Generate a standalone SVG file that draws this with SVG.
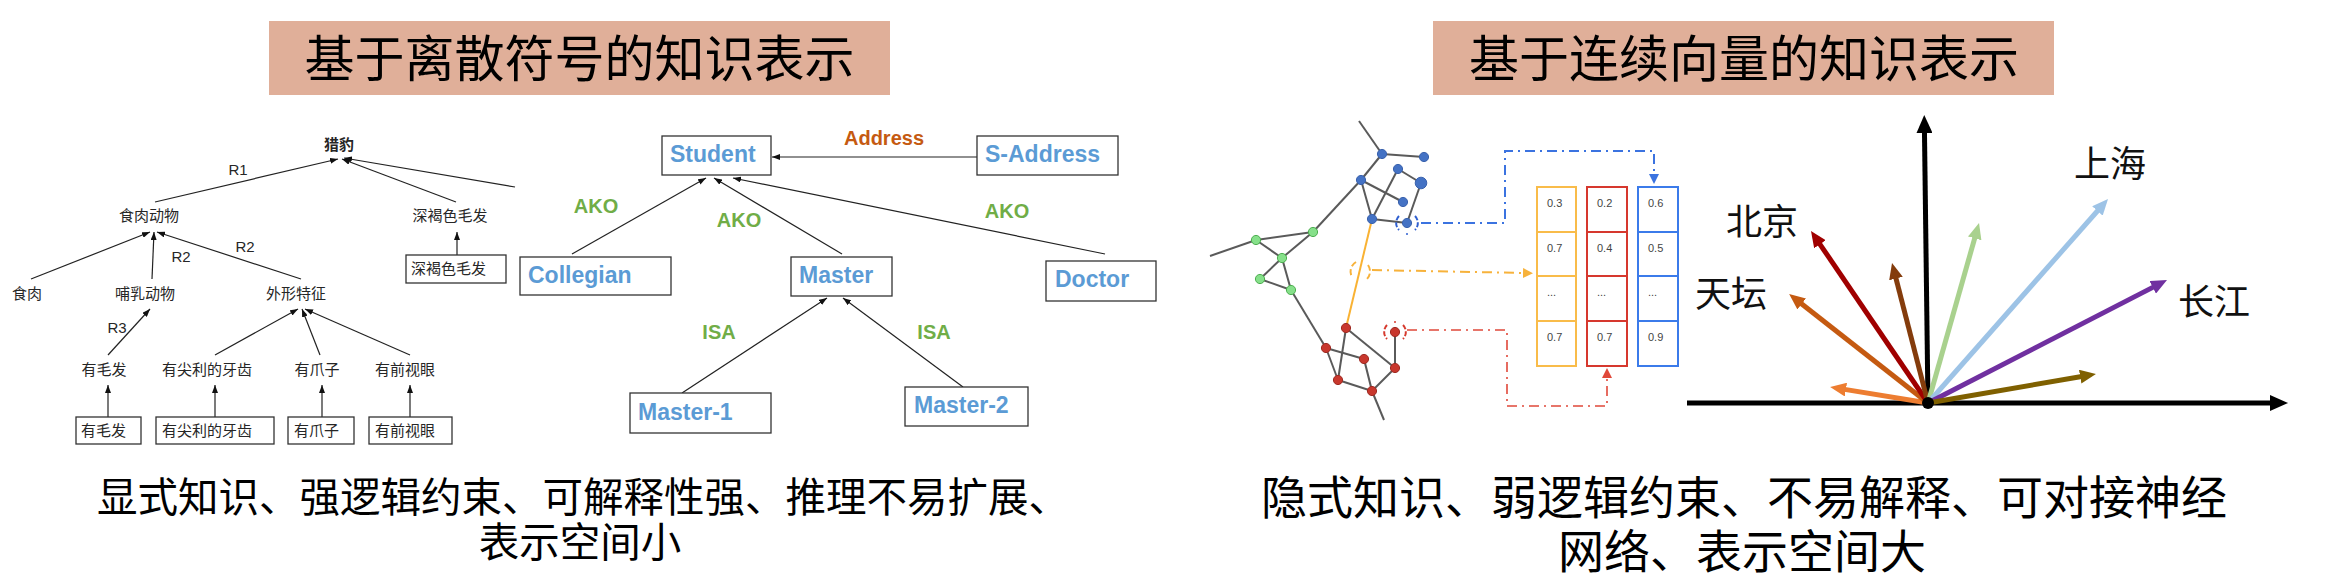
<svg xmlns="http://www.w3.org/2000/svg" width="2333" height="583" viewBox="0 0 2333 583">
<style>
.cn{font-family:"Noto Sans CJK SC","Noto Sans",sans-serif;}
.tn{font-family:"Noto Sans CJK SC","Noto Sans",sans-serif;font-size:15px;fill:#262626;}
.tl{font-family:"Liberation Sans",Arial,sans-serif;font-size:15px;fill:#262626;text-anchor:middle;}
.bx{fill:#fff;stroke:#333;stroke-width:1.3;}
.en{font-family:"Liberation Sans",Arial,sans-serif;font-weight:bold;font-size:23px;fill:#5B9BD5;}
.ako{font-family:"Liberation Sans",Arial,sans-serif;font-weight:bold;font-size:20px;fill:#70AD47;text-anchor:middle;}
.ed{stroke:#222;stroke-width:1.2;fill:none;marker-end:url(#ta);}
.ge{stroke:#5a5a5a;stroke-width:2;fill:none;}
.nb{fill:#4472C4;stroke:#3a62ad;stroke-width:1;}
.ng{fill:#86E08A;stroke:#4DAF50;stroke-width:1;}
.nr{fill:#C8372D;stroke:#9E2A22;stroke-width:1;}
.val{font-family:"Liberation Sans",Arial,sans-serif;font-size:11px;fill:#444;}
.lab{font-family:"Noto Sans CJK SC",sans-serif;font-size:36px;fill:#111;}
.vec{stroke-width:5;fill:none;}
</style>
<defs>
<marker id="ta" markerUnits="userSpaceOnUse" markerWidth="8" markerHeight="6" refX="8" refY="3" orient="auto"><path d="M0,0 L8,3 L0,6 z" fill="#111"/></marker>
<marker id="ax" markerUnits="userSpaceOnUse" markerWidth="18" markerHeight="16" refX="6" refY="8" orient="auto"><path d="M0,0 L18,8 L0,16 z" fill="#000"/></marker>
<marker id="m1" markerUnits="userSpaceOnUse" markerWidth="16" markerHeight="14" refX="6" refY="7" orient="auto"><path d="M0,0 L16,7 L0,14 z" fill="#ED7D31"/></marker>
<marker id="m2" markerUnits="userSpaceOnUse" markerWidth="16" markerHeight="14" refX="6" refY="7" orient="auto"><path d="M0,0 L16,7 L0,14 z" fill="#C55A11"/></marker>
<marker id="m3" markerUnits="userSpaceOnUse" markerWidth="16" markerHeight="14" refX="6" refY="7" orient="auto"><path d="M0,0 L16,7 L0,14 z" fill="#A00000"/></marker>
<marker id="m4" markerUnits="userSpaceOnUse" markerWidth="16" markerHeight="14" refX="6" refY="7" orient="auto"><path d="M0,0 L16,7 L0,14 z" fill="#843C0C"/></marker>
<marker id="m5" markerUnits="userSpaceOnUse" markerWidth="16" markerHeight="14" refX="6" refY="7" orient="auto"><path d="M0,0 L16,7 L0,14 z" fill="#A9D18E"/></marker>
<marker id="m6" markerUnits="userSpaceOnUse" markerWidth="16" markerHeight="14" refX="6" refY="7" orient="auto"><path d="M0,0 L16,7 L0,14 z" fill="#9DC3E6"/></marker>
<marker id="m7" markerUnits="userSpaceOnUse" markerWidth="16" markerHeight="14" refX="6" refY="7" orient="auto"><path d="M0,0 L16,7 L0,14 z" fill="#7030A0"/></marker>
<marker id="m8" markerUnits="userSpaceOnUse" markerWidth="16" markerHeight="14" refX="6" refY="7" orient="auto"><path d="M0,0 L16,7 L0,14 z" fill="#7F6000"/></marker>
<marker id="db" markerUnits="userSpaceOnUse" markerWidth="10" markerHeight="10" refX="2" refY="5" orient="auto"><path d="M0,0 L10,5 L0,10 z" fill="#3B73E0"/></marker>
<marker id="do" markerUnits="userSpaceOnUse" markerWidth="10" markerHeight="10" refX="2" refY="5" orient="auto"><path d="M0,0 L10,5 L0,10 z" fill="#F7B23B"/></marker>
<marker id="dr" markerUnits="userSpaceOnUse" markerWidth="10" markerHeight="10" refX="2" refY="5" orient="auto"><path d="M0,0 L10,5 L0,10 z" fill="#E0483A"/></marker>
</defs>
<rect width="2333" height="583" fill="#fff"/>

<!-- Titles -->
<g id="title-left">
<rect x="269" y="21" width="621" height="74" fill="#E0AF99"/>
<text class="cn" x="579.5" y="77" font-size="50" text-anchor="middle" fill="#000">基于离散符号的知识表示</text>
</g>
<g id="title-right">
<rect x="1433" y="21" width="621" height="74" fill="#E0AF99"/>
<text class="cn" x="1744" y="77" font-size="50" text-anchor="middle" fill="#000">基于连续向量的知识表示</text>
</g>

<!-- Tree connectors -->
<g id="tree-connectors">
<line class="ed" x1="155" y1="202" x2="338" y2="159"/>
<line class="ed" x1="456" y1="202" x2="342" y2="159"/>
<line class="ed" x1="515" y1="187" x2="344" y2="158"/>
<line class="ed" x1="457" y1="255" x2="457" y2="232"/>
<line class="ed" x1="31" y1="279" x2="150" y2="232"/>
<line class="ed" x1="152" y1="279" x2="154" y2="232"/>
<line class="ed" x1="301" y1="279" x2="157" y2="232"/>
<line class="ed" x1="108" y1="355" x2="150" y2="309"/>
<line class="ed" x1="215" y1="355" x2="298" y2="309"/>
<line class="ed" x1="320" y1="355" x2="302" y2="309"/>
<line class="ed" x1="410" y1="355" x2="305" y2="309"/>
<line class="ed" x1="108" y1="417" x2="108" y2="385"/>
<line class="ed" x1="215" y1="417" x2="215" y2="385"/>
<line class="ed" x1="322" y1="417" x2="322" y2="385"/>
<line class="ed" x1="410" y1="417" x2="410" y2="385"/>
<text class="tl" x="238" y="175">R1</text>
<text class="tl" x="181" y="262">R2</text>
<text class="tl" x="245" y="252">R2</text>
<text class="tl" x="117" y="333">R3</text>
</g>

<!-- Tree nodes -->
<g id="n-liebao"><text class="tn" x="339" y="150" text-anchor="middle" font-weight="bold" fill="#000">猎豹</text></g>
<g id="n-shirou-dongwu"><text class="tn" x="149" y="221" text-anchor="middle">食肉动物</text></g>
<g id="n-shenhe"><text class="tn" x="450" y="221" text-anchor="middle">深褐色毛发</text></g>
<g id="n-shenhe-box"><rect class="bx" x="406" y="255" width="100" height="28"/><text class="tn" x="411" y="274">深褐色毛发</text></g>
<g id="n-shirou"><text class="tn" x="27" y="299" text-anchor="middle">食肉</text></g>
<g id="n-buru"><text class="tn" x="145" y="299" text-anchor="middle">哺乳动物</text></g>
<g id="n-waixing"><text class="tn" x="296" y="299" text-anchor="middle">外形特征</text></g>
<g id="n-maofa"><text class="tn" x="104" y="375" text-anchor="middle">有毛发</text></g>
<g id="n-yachi"><text class="tn" x="207" y="375" text-anchor="middle">有尖利的牙齿</text></g>
<g id="n-zhuazi"><text class="tn" x="317" y="375" text-anchor="middle">有爪子</text></g>
<g id="n-shiyan"><text class="tn" x="405" y="375" text-anchor="middle">有前视眼</text></g>
<g id="b-maofa"><rect class="bx" x="76" y="417" width="65" height="27"/><text class="tn" x="81" y="436">有毛发</text></g>
<g id="b-yachi"><rect class="bx" x="156" y="417" width="118" height="27"/><text class="tn" x="162" y="436">有尖利的牙齿</text></g>
<g id="b-zhuazi"><rect class="bx" x="288" y="417" width="66" height="27"/><text class="tn" x="294" y="436">有爪子</text></g>
<g id="b-shiyan"><rect class="bx" x="369" y="417" width="83" height="27"/><text class="tn" x="375" y="436">有前视眼</text></g>

<!-- Semantic network connectors -->
<g id="net-connectors">
<line class="ed" x1="977" y1="157" x2="772" y2="157"/>
<line class="ed" x1="572" y1="254" x2="706" y2="178"/>
<line class="ed" x1="842" y1="254" x2="714" y2="178"/>
<line class="ed" x1="1105" y1="254" x2="733" y2="178"/>
<line class="ed" x1="682" y1="393" x2="827" y2="298"/>
<line class="ed" x1="963" y1="387" x2="843" y2="298"/>
<text x="884" y="145" text-anchor="middle" font-family="Liberation Sans, Arial, sans-serif" font-weight="bold" font-size="20" fill="#C55A11">Address</text>
<text class="ako" x="596" y="213">AKO</text>
<text class="ako" x="739" y="227">AKO</text>
<text class="ako" x="1007" y="218">AKO</text>
<text class="ako" x="719" y="339">ISA</text>
<text class="ako" x="934" y="339">ISA</text>
</g>
<g id="student"><rect class="bx" x="662" y="136" width="109" height="39"/><text class="en" x="670" y="162">Student</text></g>
<g id="s-address"><rect class="bx" x="977" y="136" width="141" height="39"/><text class="en" x="985" y="162">S-Address</text></g>
<g id="collegian"><rect class="bx" x="520" y="257" width="151" height="38"/><text class="en" x="528" y="283">Collegian</text></g>
<g id="master"><rect class="bx" x="791" y="257" width="101" height="39"/><text class="en" x="799" y="283">Master</text></g>
<g id="doctor"><rect class="bx" x="1046" y="261" width="110" height="40"/><text class="en" x="1055" y="287">Doctor</text></g>
<g id="master-1"><rect class="bx" x="630" y="393" width="141" height="40"/><text class="en" x="638" y="420">Master-1</text></g>
<g id="master-2"><rect class="bx" x="905" y="387" width="123" height="39"/><text class="en" x="914" y="413">Master-2</text></g>

<!-- Graph embedding -->
<g id="graph-edges">
<line class="ge" x1="1359" y1="121" x2="1382" y2="154"/>
<line class="ge" x1="1382" y1="154" x2="1424" y2="157"/>
<line class="ge" x1="1382" y1="154" x2="1361" y2="180"/>
<line class="ge" x1="1361" y1="180" x2="1372" y2="219"/>
<line class="ge" x1="1361" y1="180" x2="1403" y2="202"/>
<line class="ge" x1="1398" y1="169" x2="1421" y2="183"/>
<line class="ge" x1="1398" y1="169" x2="1372" y2="219"/>
<line class="ge" x1="1421" y1="183" x2="1407" y2="223"/>
<line class="ge" x1="1372" y1="219" x2="1407" y2="223"/>
<line class="ge" x1="1361" y1="180" x2="1313" y2="232"/>
<line class="ge" x1="1313" y1="232" x2="1256" y2="240"/>
<line class="ge" x1="1313" y1="232" x2="1282" y2="258"/>
<line class="ge" x1="1256" y1="240" x2="1282" y2="258"/>
<line class="ge" x1="1256" y1="240" x2="1210" y2="256"/>
<line class="ge" x1="1282" y1="258" x2="1260" y2="279"/>
<line class="ge" x1="1260" y1="279" x2="1291" y2="290"/>
<line class="ge" x1="1282" y1="258" x2="1291" y2="290"/>
<line class="ge" x1="1291" y1="290" x2="1326" y2="348"/>
<line x1="1372" y1="219" x2="1346" y2="328" stroke="#F9B233" stroke-width="2"/>
<line class="ge" x1="1346" y1="328" x2="1338" y2="380"/>
<line class="ge" x1="1346" y1="328" x2="1395" y2="368"/>
<line class="ge" x1="1326" y1="348" x2="1364" y2="359"/>
<line class="ge" x1="1326" y1="348" x2="1338" y2="380"/>
<line class="ge" x1="1364" y1="359" x2="1372" y2="391"/>
<line class="ge" x1="1338" y1="380" x2="1372" y2="391"/>
<line class="ge" x1="1372" y1="391" x2="1395" y2="368"/>
<line class="ge" x1="1395" y1="332" x2="1395" y2="368"/>
<line class="ge" x1="1372" y1="391" x2="1384" y2="420"/>
</g>
<g id="graph-nodes">
<circle class="nb" cx="1382" cy="154" r="4.6"/>
<circle class="nb" cx="1424" cy="157" r="4.6"/>
<circle class="nb" cx="1398" cy="169" r="4.6"/>
<circle class="nb" cx="1421" cy="183" r="5.8"/>
<circle class="nb" cx="1361" cy="180" r="4.6"/>
<circle class="nb" cx="1403" cy="202" r="4.6"/>
<circle class="nb" cx="1372" cy="219" r="4.6"/>
<circle class="nb" cx="1407" cy="223" r="4.6"/>
<circle class="ng" cx="1313" cy="232" r="4.6"/>
<circle class="ng" cx="1256" cy="240" r="4.6"/>
<circle class="ng" cx="1282" cy="258" r="4.6"/>
<circle class="ng" cx="1260" cy="279" r="4.6"/>
<circle class="ng" cx="1291" cy="290" r="4.6"/>
<circle class="nr" cx="1346" cy="328" r="4.6"/>
<circle class="nr" cx="1395" cy="332" r="4.6"/>
<circle class="nr" cx="1326" cy="348" r="4.6"/>
<circle class="nr" cx="1364" cy="359" r="4.6"/>
<circle class="nr" cx="1395" cy="368" r="4.6"/>
<circle class="nr" cx="1338" cy="380" r="4.6"/>
<circle class="nr" cx="1372" cy="391" r="4.6"/>
<path d="M1399,216 A10,10 0 0 0 1399,230 M1415,216 A10,10 0 0 1 1415,230" stroke="#2F5FD0" stroke-width="2" fill="none" stroke-dasharray="5,2"/>
<circle cx="1407" cy="234" r="1" fill="#2F5FD0"/>
<path d="M1356,262 A11,11 0 0 0 1352,277 M1368,265 A11,11 0 0 1 1367,279" stroke="#F7B23B" stroke-width="2" fill="none" stroke-dasharray="6,3"/>
<path d="M1387,325 A10,10 0 0 0 1387,339 M1403,325 A10,10 0 0 1 1403,339" stroke="#D63A2E" stroke-width="2" fill="none" stroke-dasharray="5,2"/>
<circle cx="1395" cy="322" r="1" fill="#D63A2E"/>
</g>
<g id="embed-connectors">
<path d="M1421,223 H1505 V151 H1654 V176" stroke="#3B73E0" stroke-width="2" fill="none" stroke-dasharray="10,5,2,5" marker-end="url(#db)"/>
<path d="M1372,270 L1525,273" stroke="#F7B23B" stroke-width="2" fill="none" stroke-dasharray="10,5,2,5" marker-end="url(#do)"/>
<path d="M1407,330 H1507 V406 H1607 V376" stroke="#E0483A" stroke-width="1.6" fill="none" stroke-dasharray="10,5,2,5" marker-end="url(#dr)"/>
</g>
<g id="vec-orange" fill="none" stroke="#F9BC4A" stroke-width="2">
<rect x="1537" y="187" width="39" height="45"/><rect x="1537" y="232" width="39" height="44"/><rect x="1537" y="276" width="39" height="45"/><rect x="1537" y="321" width="39" height="45"/>
<text class="val" x="1547" y="207" stroke="none">0.3</text><text class="val" x="1547" y="252" stroke="none">0.7</text><text class="val" x="1547" y="296" stroke="none" font-size="8">...</text><text class="val" x="1547" y="341" stroke="none">0.7</text>
</g>
<g id="vec-red" fill="none" stroke="#D6382E" stroke-width="2">
<rect x="1587" y="187" width="40" height="45"/><rect x="1587" y="232" width="40" height="44"/><rect x="1587" y="276" width="40" height="45"/><rect x="1587" y="321" width="40" height="45"/>
<text class="val" x="1597" y="207" stroke="none">0.2</text><text class="val" x="1597" y="252" stroke="none">0.4</text><text class="val" x="1597" y="296" stroke="none" font-size="8">...</text><text class="val" x="1597" y="341" stroke="none">0.7</text>
</g>
<g id="vec-blue" fill="none" stroke="#3B7BEA" stroke-width="2">
<rect x="1638" y="187" width="40" height="45"/><rect x="1638" y="232" width="40" height="44"/><rect x="1638" y="276" width="40" height="45"/><rect x="1638" y="321" width="40" height="45"/>
<text class="val" x="1648" y="207" stroke="none">0.6</text><text class="val" x="1648" y="252" stroke="none">0.5</text><text class="val" x="1648" y="296" stroke="none" font-size="8">...</text><text class="val" x="1648" y="341" stroke="none">0.9</text>
</g>

<!-- Vector space -->
<g id="axes">
<line x1="1687" y1="403" x2="2276" y2="403" stroke="#000" stroke-width="5" marker-end="url(#ax)"/>
<line x1="1928" y1="405" x2="1924.4" y2="127" stroke="#000" stroke-width="5" marker-end="url(#ax)"/>
</g>
<g id="vectors">
<line class="vec" x1="1928" y1="403" x2="1840" y2="388.6" stroke="#ED7D31" marker-end="url(#m1)"/>
<line class="vec" x1="1928" y1="403" x2="1797" y2="300.2" stroke="#C55A11" marker-end="url(#m2)"/>
<line class="vec" x1="1928" y1="403" x2="1816.6" y2="239.3" stroke="#A00000" marker-end="url(#m3)"/>
<line class="vec" x1="1928" y1="403" x2="1894.5" y2="272.7" stroke="#843C0C" marker-end="url(#m4)"/>
<line class="vec" x1="1928" y1="403" x2="1976.3" y2="232.6" stroke="#A9D18E" marker-end="url(#m5)"/>
<line class="vec" x1="1928" y1="403" x2="2101.4" y2="206.5" stroke="#9DC3E6" marker-end="url(#m6)"/>
<line class="vec" x1="1928" y1="403" x2="2158.1" y2="284.6" stroke="#7030A0" marker-end="url(#m7)"/>
<line class="vec" x1="1928" y1="403" x2="2086.1" y2="375.7" stroke="#7F6000" marker-end="url(#m8)"/>
<circle cx="1928" cy="403" r="6" fill="#000"/>
</g>
<g id="labels">
<text class="lab" x="2074" y="177">上海</text>
<text class="lab" x="1726" y="235">北京</text>
<text class="lab" x="1695" y="307">天坛</text>
<text class="lab" x="2178" y="315">长江</text>
</g>

<!-- Captions -->
<g id="caption-left">
<text class="cn" x="583" y="512" font-size="40.5" text-anchor="middle" fill="#000">显式知识、强逻辑约束、可解释性强、推理不易扩展、</text>
<text class="cn" x="580" y="557" font-size="40.5" text-anchor="middle" fill="#000">表示空间小</text>
</g>
<g id="caption-right">
<text class="cn" x="1744" y="514" font-size="46" text-anchor="middle" fill="#000">隐式知识、弱逻辑约束、不易解释、可对接神经</text>
<text class="cn" x="1742" y="568" font-size="46" text-anchor="middle" fill="#000">网络、表示空间大</text>
</g>
</svg>
